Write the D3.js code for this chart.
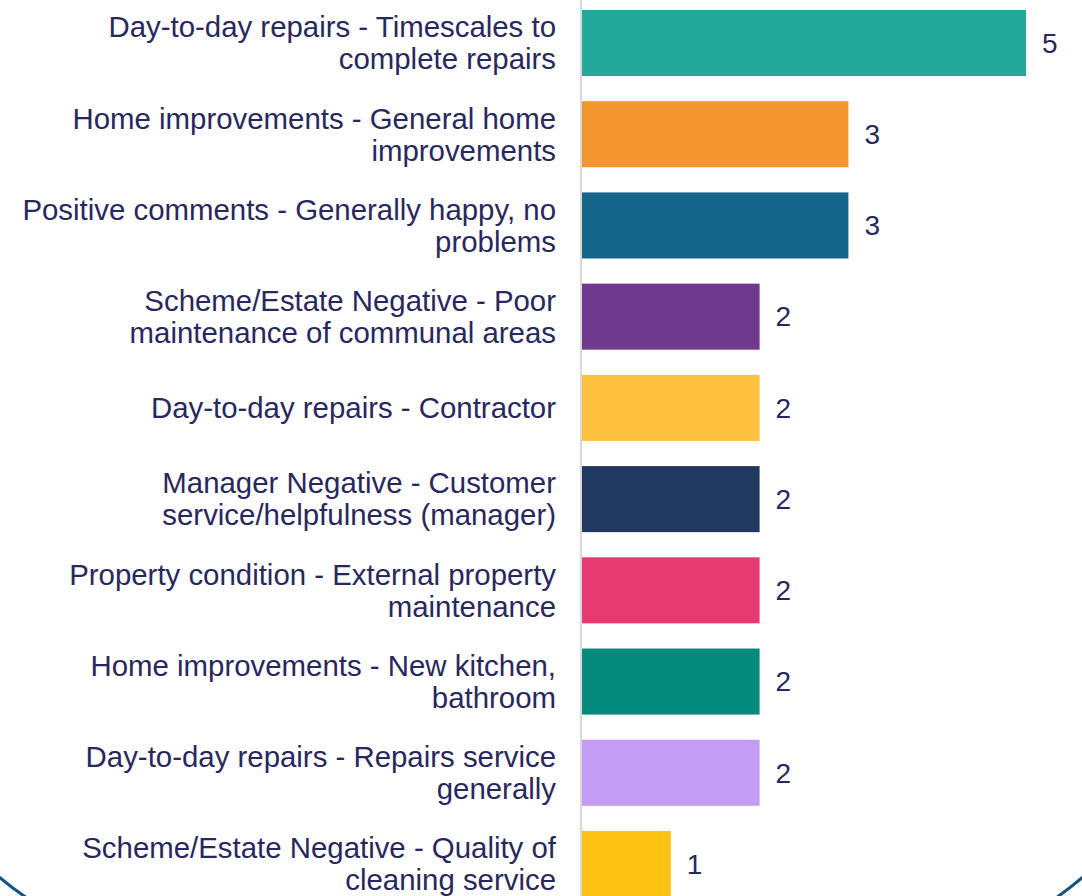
<!DOCTYPE html>
<html>
<head>
<meta charset="utf-8">
<script src="https://cdn.jsdelivr.net/npm/d3@7"></script>
<style>
  body { margin: 0; background: #ffffff; }
</style>
</head>
<body>
<div id="chart"></div>
<script>
const categories = [
  ["Day-to-day repairs - Timescales to", "complete repairs"],
  ["Home improvements - General home", "improvements"],
  ["Positive comments - Generally happy, no", "problems"],
  ["Scheme/Estate Negative - Poor", "maintenance of communal areas"],
  ["Day-to-day repairs - Contractor"],
  ["Manager Negative - Customer", "service/helpfulness (manager)"],
  ["Property condition - External property", "maintenance"],
  ["Home improvements - New kitchen,", "bathroom"],
  ["Day-to-day repairs - Repairs service", "generally"],
  ["Scheme/Estate Negative - Quality of", "cleaning service"]
];
const values = [5, 3, 3, 2, 2, 2, 2, 2, 2, 1];
const colors = ["#23a89a", "#f3962f", "#15658b", "#6f3a8e", "#fdc13f",
  "#213861", "#e83a72", "#058b7d", "#c39df4", "#fdc314"];

const width = 1082, height = 896;
const textColor = "#28285e";
const font = "'Liberation Sans', Arial, sans-serif";

const svg = d3.select("#chart")
  .append("svg")
  .attr("width", width)
  .attr("height", height);

const x = d3.scaleLinear()
  .domain([0, 5])
  .range([582, 1026]);

const y = d3.scaleBand()
  .domain(d3.range(categories.length))
  .range([-2.6, 909.6])
  .paddingInner(0.276)
  .paddingOuter(0.138);

// decorative border curves at the bottom corners
svg.append("path")
  .attr("d", "M-2,876 Q12,888 27,898")
  .attr("fill", "none")
  .attr("stroke", "#14557d")
  .attr("stroke-width", 3);
svg.append("path")
  .attr("d", "M1056,898 Q1070,888 1084,876")
  .attr("fill", "none")
  .attr("stroke", "#14557d")
  .attr("stroke-width", 3);

// bars
svg.selectAll("rect.bar")
  .data(values)
  .enter()
  .append("rect")
  .attr("class", "bar")
  .attr("x", x(0))
  .attr("y", (d, i) => y(i))
  .attr("width", d => x(d) - x(0))
  .attr("height", y.bandwidth())
  .attr("fill", (d, i) => colors[i]);

// axis line
svg.append("line")
  .attr("x1", x(0) - 1)
  .attr("x2", x(0) - 1)
  .attr("y1", 0)
  .attr("y2", height)
  .attr("stroke", "#d9d9d9")
  .attr("stroke-width", 2);

// category labels
const labels = svg.selectAll("text.cat")
  .data(categories)
  .enter()
  .append("text")
  .attr("class", "cat")
  .attr("text-anchor", "end")
  .style("font-family", font)
  .style("font-size", "29.4px")
  .style("fill", textColor);

labels.each(function(lines, i) {
  const cy = y(i) + y.bandwidth() / 2;
  const lh = 32;
  const start = cy - (lines.length - 1) * lh / 2;
  lines.forEach((l, j) => {
    d3.select(this).append("tspan")
      .attr("x", 556)
      .attr("y", start + j * lh)
      .attr("dy", "0.35em")
      .text(l);
  });
});

// value labels
svg.selectAll("text.val")
  .data(values)
  .enter()
  .append("text")
  .attr("class", "val")
  .attr("x", d => x(d) + 16)
  .attr("y", (d, i) => y(i) + y.bandwidth() / 2)
  .attr("dy", "0.35em")
  .style("font-family", font)
  .style("font-size", "28px")
  .style("fill", textColor)
  .text(d => d);
</script>
</body>
</html>
